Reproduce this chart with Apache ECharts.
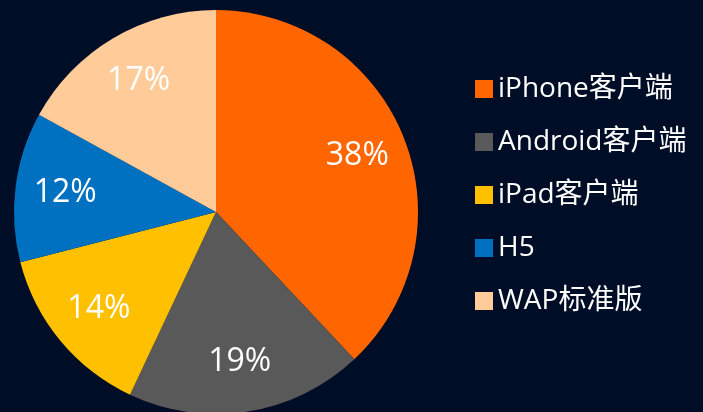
<!DOCTYPE html>
<html>
<head>
<meta charset="utf-8">
<script src="https://cdn.jsdelivr.net/npm/echarts@6/dist/echarts.min.js"></script>
<style>
  html, body { margin: 0; padding: 0; background: #000d26; }
  #chart { width: 703px; height: 412px; }
</style>
</head>
<body>
<div id="chart"></div>
<script>
const categories = ['iPhone客户端', 'Android客户端', 'iPad客户端', 'H5', 'WAP标准版']
const shares = [38, 19, 14, 12, 17]
const colors = ['#ff6600', '#595959', '#ffc000', '#0070c0', '#ffcc99']

const font = '"Open Sans", "Noto Sans CJK SC", sans-serif'
const chart = echarts.init(document.getElementById('chart'))

const pieData = categories.map((name, i) => ({ name, value: shares[i] }))

chart.setOption({
  backgroundColor: '#000d26',
  animation: false,
  color: colors,
  legend: {
    orient: 'vertical',
    left: 470,
    top: 66,
    icon: 'rect',
    itemWidth: 18,
    itemHeight: 18,
    itemGap: 17,
    itemTextGap: 6,
    data: categories,
    textStyle: { color: '#ffffff', fontSize: 28, fontFamily: font, lineHeight: 36 }
  },
  series: [
    {
      type: 'pie',
      center: [216, 212],
      radius: 202,
      startAngle: 90,
      clockwise: true,
      silent: true,
      label: { show: false },
      labelLine: { show: false },
      data: pieData
    },
    {
      // label ring only, so the percentages sit out near the rim
      type: 'pie',
      center: [216, 212],
      radius: [96, 202],
      startAngle: 90,
      clockwise: true,
      silent: true,
      itemStyle: { color: 'rgba(0,0,0,0)' },
      label: {
        show: true,
        position: 'inside',
        formatter: '{c}%',
        color: '#ffffff',
        fontSize: 32,
        fontFamily: font
      },
      labelLine: { show: false },
      data: pieData
    }
  ]
})
</script>
</body>
</html>
